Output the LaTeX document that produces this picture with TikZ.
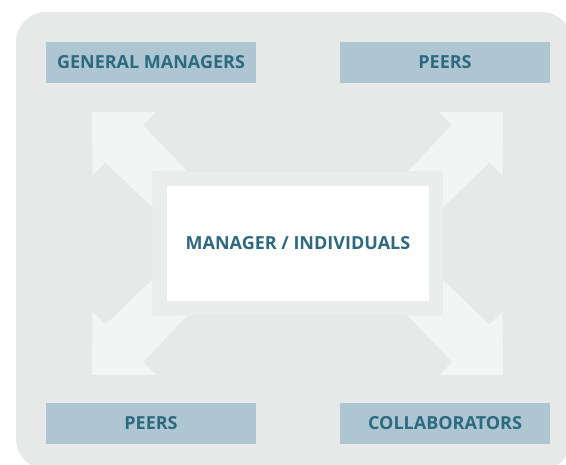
\documentclass[tikz,border=0pt]{standalone}
\usepackage{fontspec}
\setmainfont{Open Sans}
\definecolor{bgc}{HTML}{E7E9E8}
\definecolor{framec}{HTML}{EBEDEC}
\definecolor{arrowc}{HTML}{F3F5F4}
\definecolor{boxc}{HTML}{ADC6D2}
\definecolor{textc}{HTML}{2D6A80}
\tikzset{
  rolebox/.style={fill=boxc, draw=none, minimum width=210pt, minimum height=41pt, inner sep=0pt,
    text=textc, font=\fontsize{18pt}{21pt}\selectfont\bfseries},
  centerbox/.style={fill=white, draw=none, minimum width=262pt, minimum height=115pt, inner sep=0pt,
    text=textc, font=\fontsize{18pt}{21pt}\selectfont\bfseries},
  bigarrow/.style={fill=arrowc, draw=none}
}
\begin{document}
\begin{tikzpicture}[x=1pt,y=-1pt]
\useasboundingbox (0,0) rectangle (566,465);
\begin{scope}
\clip (0,0) rectangle (566,465);
\fill[bgc, rounded corners=30pt] (16,12) rectangle (572,469);
\end{scope}
% light frame around the centre box
\fill[framec] (152,172) rectangle (443,315);
% arrows
\foreach \sx/\sy in {1/1,-1/1,1/-1,-1/-1}{
  \begin{scope}[shift={(297.5,243.5)}, xscale=\sx, yscale=\sy]
    \fill[bigarrow] (-205.5,-131.5) -- ++(64,0) -- ++(-13,13) -- ++(44.5,46.5)
      -- ++(-35.5,0) -- ++(0,35.5) -- ++(-46.5,-44.5) -- ++(-13,13) -- cycle;
  \end{scope}
}
\node[centerbox] (center) at (298,243.5) {MANAGER / INDIVIDUALS};
\node[rolebox] (gm) at (151,62.5) {GENERAL MANAGERS};
\node[rolebox] (peerstop) at (445,62.5) {PEERS};
\node[rolebox] (peersbot) at (151,423.5) {PEERS};
\node[rolebox] (collab) at (445,423.5) {COLLABORATORS};
\end{tikzpicture}
\end{document}
